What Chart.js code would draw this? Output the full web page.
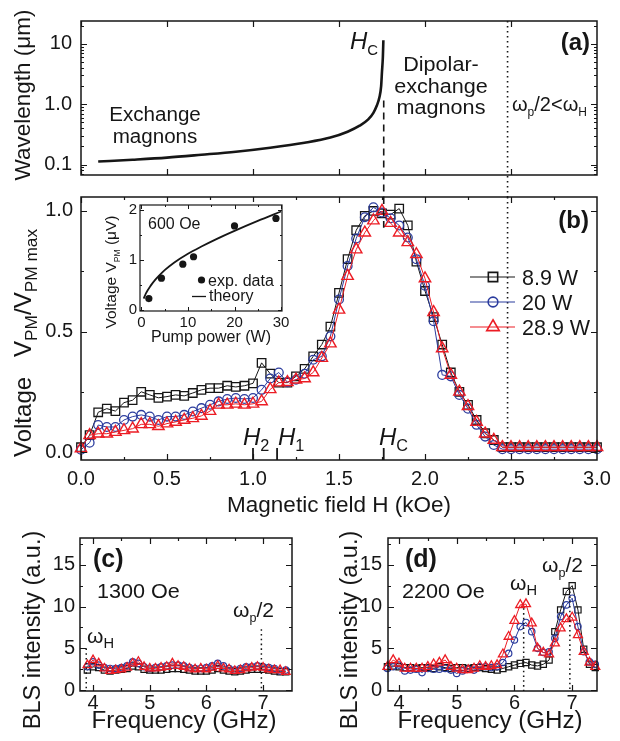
<!DOCTYPE html>
<html><head><meta charset="utf-8">
<script src="https://cdn.jsdelivr.net/npm/chart.js@4.4.0/dist/chart.umd.min.js"></script>
<style>
html,body{margin:0;padding:0;background:#fff;}
#wrap{position:relative;width:620px;height:741px;overflow:hidden;}
canvas{position:absolute;left:0;top:0;}
</style></head><body><div id="wrap">
<canvas id="cb" width="620" height="741"></canvas>
<canvas id="ca" width="620" height="741"></canvas>
<canvas id="ci" width="620" height="741"></canvas>
<canvas id="cc" width="620" height="741"></canvas>
<canvas id="cd" width="620" height="741"></canvas>
</div>
<script>
// ---------------- DATA ----------------
// panel (b): normalized voltage vs magnetic field
const fieldKOe = [0,0.05,0.1,0.15,0.2,0.25,0.3,0.35,0.4,0.45,0.5,0.55,0.6,0.65,0.7,0.75,0.8,0.85,0.9,0.95,
  1.0,1.05,1.1,1.15,1.2,1.25,1.3,1.35,1.4,1.45,1.5,1.55,1.6,1.65,1.7,1.75,1.8,1.85,1.9,1.95,
  2.0,2.05,2.1,2.15,2.2,2.25,2.3,2.35,2.4,2.45,2.5,2.55,2.6,2.65,2.7,2.75,2.8,2.85,2.9,2.95,3.0];
const v89W = [0.02,0.07,0.165,0.18,0.17,0.205,0.215,0.25,0.237,0.225,
  0.23,0.237,0.233,0.245,0.258,0.265,0.265,0.275,0.27,0.275,
  0.285,0.37,0.325,0.288,0.288,0.314,0.345,0.397,0.446,0.52,
  0.66,0.80,0.92,0.98,1.0,0.99,0.985,1.01,0.94,0.79,
  0.668,0.56,0.446,0.33,0.25,0.196,0.133,0.078,0.05,0.02,
  0.02,0.02,0.02,0.02,0.02,0.02,0.02,0.02,0.02,0.02,0.02];
const v20W = [0.01,0.039,0.112,0.104,0.104,0.133,0.147,0.154,0.147,0.133,
  0.147,0.147,0.154,0.168,0.182,0.196,0.21,0.22,0.224,0.22,
  0.224,0.258,0.305,0.33,0.29,0.30,0.325,0.383,0.397,0.48,
  0.633,0.772,0.886,0.974,1.015,0.994,0.97,0.94,0.89,0.80,
  0.69,0.543,0.32,0.314,0.237,0.18,0.113,0.064,0.029,0.012,
  0.012,0.012,0.012,0.012,0.012,0.012,0.012,0.012,0.012,0.012,0.012];
const v289W = [0.015,0.07,0.076,0.076,0.083,0.09,0.097,0.115,0.115,0.107,
  0.118,0.125,0.133,0.14,0.15,0.17,0.196,0.196,0.2,0.196,
  0.2,0.21,0.26,0.288,0.29,0.30,0.305,0.33,0.39,0.45,
  0.59,0.73,0.84,0.91,0.96,1.0,0.95,0.91,0.87,0.82,
  0.72,0.58,0.43,0.32,0.25,0.19,0.125,0.076,0.05,0.02,
  0.02,0.02,0.02,0.02,0.02,0.02,0.02,0.02,0.02,0.02,0.02];
const powerLabels = ['8.9 W','20 W','28.9 W'];

// panel (a): wavelength of exchange magnons
const wlField = [0.1,0.3,0.5,0.7,0.9,1.1,1.3,1.45,1.55,1.62,1.67,1.70,1.72,1.735,1.745,1.75,1.755,1.758];
const wlMicron = [0.112,0.12,0.13,0.145,0.163,0.19,0.23,0.28,0.35,0.44,0.56,0.72,0.95,1.3,2.0,3.5,6.0,11.5];

// inset: voltage vs pump power
const insetPowerW = [1.6,4.3,8.9,11.2,20,28.9];
const insetVoltUV = [0.22,0.63,0.91,1.06,1.68,1.83];
const theoryPowerW = [0.5,1,2,3,4,5,7,10,13,16,20,25,30];
const theoryVoltUV = [0.22,0.33,0.48,0.6,0.7,0.79,0.94,1.12,1.27,1.41,1.58,1.78,1.97];

// panel (c): BLS spectra at 1300 Oe
const freqC = [3.9,4.0,4.1,4.2,4.3,4.4,4.5,4.6,4.7,4.8,4.9,5.0,5.1,5.2,5.3,5.4,5.5,5.6,5.7,5.8,
  5.9,6.0,6.1,6.2,6.3,6.4,6.5,6.6,6.7,6.8,6.9,7.0,7.1,7.2,7.3,7.4];
const c89W = [2.4,2.8,2.7,2.4,2.3,2.4,2.5,2.6,2.9,2.8,2.5,2.4,2.4,2.4,2.5,2.6,2.6,2.5,2.4,2.3,
  2.3,2.3,2.4,2.6,2.4,2.3,2.2,2.3,2.4,2.5,2.5,2.5,2.4,2.3,2.2,2.2];
const c20W = [2.8,3.4,3.0,2.7,2.6,2.6,2.7,2.9,3.4,3.2,2.8,2.6,2.7,2.8,2.9,3.0,3.0,2.9,2.7,2.6,
  2.6,2.7,2.9,3.2,2.9,2.6,2.4,2.6,2.8,2.8,2.9,2.8,2.7,2.6,2.3,2.4];
const c289W = [3.0,3.6,3.2,2.6,2.3,2.4,2.5,2.7,3.2,3.4,2.8,2.6,2.6,2.7,2.8,3.2,2.9,2.8,2.6,2.5,
  2.6,2.5,2.7,2.9,2.6,2.5,2.3,2.4,2.6,2.7,2.8,2.7,2.5,2.4,2.4,2.2];

// panel (d): BLS spectra at 2200 Oe
const freqD = [3.8,3.9,4.0,4.1,4.2,4.3,4.4,4.5,4.6,4.7,4.8,4.9,5.0,5.1,5.2,5.3,5.4,5.5,5.6,5.7,
  5.8,5.9,6.0,6.1,6.2,6.3,6.4,6.5,6.6,6.7,6.8,6.9,7.0,7.1,7.2,7.3,7.4];
const d89W = [2.8,2.9,2.8,2.7,2.7,2.6,2.7,2.7,2.6,2.8,2.7,2.6,2.7,2.7,2.6,2.7,2.7,2.6,2.5,2.4,
  2.6,2.8,3.0,3.2,3.3,3.0,2.9,3.1,3.6,7.0,9.6,11.8,12.5,9.6,4.9,3.1,2.7];
const d20W = [2.6,2.8,3.0,2.3,2.4,2.5,2.1,2.6,2.5,2.5,2.6,2.4,2.0,2.3,2.5,2.4,2.8,2.8,2.7,2.8,
  3.3,4.4,6.0,7.6,8.1,7.0,5.0,4.5,4.6,6.2,8.8,10.2,11.0,7.6,4.6,3.4,3.1];
const d289W = [2.8,3.6,3.2,2.6,2.6,2.6,2.6,2.8,3.1,3.3,3.6,2.8,2.6,2.4,2.4,2.6,2.9,2.8,2.9,3.0,
  4.3,6.4,8.3,10.2,10.3,8.0,5.0,4.5,4.3,5.6,7.4,8.5,8.7,6.6,4.6,3.3,2.8];

// tick values / labels
const fieldTicks = [0,0.5,1.0,1.5,2.0,2.5,3.0];
const voltTicks = [0,0.5,1.0];
const wlTicks = [0.1,1,10];
const wlTickLabels = ['0.1','1.0','10'];
const freqTicks = [4,5,6,7];
const blsTicks = [0,5,10,15];
const powerTicks = [0,10,20,30];
const uvTicks = [0,1,2];

// ---------------- STYLE / LAYOUT ----------------
const FH = "'Liberation Sans', Arial, sans-serif";
const FV = "'Liberation Sans', Arial, sans-serif";
const INK = '#161616';
const BLUE = '#2b3c9e';
const RED = '#ec1c24';
Chart.defaults.font.family = FH;
Chart.defaults.color = INK;

const AREA_A = {left:81, top:16, right:597, bottom:175};
const AREA_B = {left:81, top:197, right:597, bottom:460};
const AREA_I = {left:140, top:205, right:282, bottom:311};
const AREA_C = {left:80, top:538, right:292, bottom:691};
const AREA_D = {left:388, top:538, right:597, bottom:691};

function pts(xs, ys) { return xs.map((x, i) => ({x: x, y: ys[i]})); }

function xAxis(min, max, ticks, fmt, size, pad, h, show) {
  return {
    type: 'linear', position: 'bottom', min: min, max: max,
    grid: {display: false, drawTicks: false}, border: {display: false},
    afterBuildTicks: s => { s.ticks = ticks.map(v => ({value: v})); },
    afterFit: s => { s.height = h; },
    ticks: {display: show, padding: pad, font: {size: size, family: FH}, color: INK,
      callback: fmt, maxRotation: 0, minRotation: 0, autoSkip: false}
  };
}
function yAxis(type, min, max, ticks, fmt, size, pad, w) {
  return {
    type: type, position: 'left', min: min, max: max,
    grid: {display: false, drawTicks: false}, border: {display: false},
    afterBuildTicks: s => { s.ticks = ticks.map(v => ({value: v})); },
    afterFit: s => { s.width = w; },
    ticks: {display: true, padding: pad, font: {size: size, family: FH}, color: INK,
      callback: fmt, autoSkip: false}
  };
}

function rich(ctx, parts, x, y, size, o) {
  o = o || {};
  const fam = o.fam || FH;
  const sx = o.sx || 1;
  const fontFor = k => {
    let s = size, pre = '';
    if (k.indexOf('s') >= 0) s = size * (o.subScale || 0.62);
    if (k.indexOf('i') >= 0) pre += 'italic ';
    if (k.indexOf('b') >= 0) pre += 'bold ';
    return pre + s.toFixed(1) + 'px ' + fam;
  };
  ctx.save();
  ctx.translate(x, y);
  if (o.rot) ctx.rotate(o.rot);
  ctx.scale(sx, 1);
  let total = 0;
  const ws = parts.map(p => { ctx.font = fontFor(p[1] || ''); const w = ctx.measureText(p[0]).width; total += w; return w; });
  let cx = o.align === 'center' ? -total / 2 : (o.align === 'right' ? -total : 0);
  ctx.fillStyle = o.color || INK;
  ctx.textAlign = 'left';
  ctx.textBaseline = 'alphabetic';
  parts.forEach((p, i) => {
    const k = p[1] || '';
    ctx.font = fontFor(k);
    const dy = k.indexOf('s') >= 0 ? size * 0.24 : 0;
    ctx.fillText(p[0], cx, dy);
    cx += ws[i];
  });
  ctx.restore();
}

function vline(ctx, x, y0, y1, dash, lw) {
  ctx.save();
  ctx.strokeStyle = INK; ctx.lineWidth = lw || 1.5;
  ctx.setLineDash(dash);
  ctx.beginPath(); ctx.moveTo(x, y0); ctx.lineTo(x, y1); ctx.stroke();
  ctx.restore();
}

function marker(ctx, kind, x, y, r, color, lw) {
  ctx.save();
  ctx.strokeStyle = color; ctx.lineWidth = lw;
  ctx.beginPath();
  if (kind === 'rect') { const h = r * Math.SQRT1_2; ctx.rect(x - h, y - h, 2 * h, 2 * h); }
  else if (kind === 'circle') { ctx.arc(x, y, r, 0, Math.PI * 2); }
  else { ctx.moveTo(x, y - r); ctx.lineTo(x + r * 0.866, y + r * 0.5); ctx.lineTo(x - r * 0.866, y + r * 0.5); ctx.closePath(); }
  ctx.stroke();
  ctx.restore();
}

function framePlugin(spec) {
  return {
    id: 'frame',
    beforeDraw(chart) {
      if (!spec.fill) return;
      const a = chart.chartArea, ctx = chart.ctx;
      ctx.save(); ctx.fillStyle = '#fff';
      ctx.fillRect(a.left - spec.fillPad[0], a.top - spec.fillPad[1], a.right - a.left + spec.fillPad[0] + spec.fillPad[2], a.bottom - a.top + spec.fillPad[1] + spec.fillPad[3]);
      ctx.restore();
    },
    afterDatasetsDraw(chart) {
      const a = chart.chartArea, ctx = chart.ctx, xs = chart.scales.x, ys = chart.scales.y;
      ctx.save();
      ctx.strokeStyle = INK; ctx.lineWidth = spec.lw || 1.5;
      ctx.setLineDash([]);
      ctx.strokeRect(a.left, a.top, a.right - a.left, a.bottom - a.top);
      ctx.lineWidth = spec.tw || 1.2;
      ctx.beginPath();
      const xt = (vals, len) => vals.forEach(v => {
        const p = Math.round(xs.getPixelForValue(v)) + 0.5;
        if (p < a.left || p > a.right) return;
        ctx.moveTo(p, a.bottom); ctx.lineTo(p, a.bottom - len);
        if (spec.top !== false) { ctx.moveTo(p, a.top); ctx.lineTo(p, a.top + len); }
      });
      const yt = (vals, len) => vals.forEach(v => {
        const p = Math.round(ys.getPixelForValue(v)) + 0.5;
        if (p < a.top || p > a.bottom) return;
        ctx.moveTo(a.left, p); ctx.lineTo(a.left + len, p);
        if (spec.right !== false) { ctx.moveTo(a.right, p); ctx.lineTo(a.right - len, p); }
      });
      xt(spec.xMaj || [], spec.maj || 6); xt(spec.xMin || [], spec.min || 3);
      yt(spec.yMaj || [], spec.maj || 6); yt(spec.yMin || [], spec.min || 3);
      ctx.stroke();
      ctx.restore();
    },
    afterDraw(chart) { if (spec.anno) spec.anno(chart, chart.ctx); }
  };
}

function seriesDS(label, xs, ys, style, color, r, lw, order) {
  return {label: label, data: pts(xs, ys), borderColor: color, borderWidth: 1, pointStyle: style,
    pointRadius: r, pointBorderColor: color, pointBorderWidth: lw, pointBackgroundColor: 'rgba(255,255,255,0)',
    showLine: true, tension: 0, clip: false, order: order, fill: false};
}

function baseOptions(area, xh, scales, plugins) {
  return {
    responsive: false, animation: false, devicePixelRatio: 1, events: [],
    layout: {padding: {left: 0, top: area.top, right: 620 - area.right, bottom: 741 - area.bottom - xh}},
    scales: scales,
    plugins: Object.assign({legend: {display: false}, tooltip: {enabled: false}}, plugins || {})
  };
}

// ---------------- PANEL (b) ----------------
new Chart(document.getElementById('cb'), {
  type: 'line',
  data: {datasets: [
    seriesDS(powerLabels[0], fieldKOe, v89W, 'rect', INK, 6.0, 1.3, 3),
    seriesDS(powerLabels[1], fieldKOe, v20W, 'circle', BLUE, 4.4, 1.3, 2),
    seriesDS(powerLabels[2], fieldKOe, v289W, 'triangle', RED, 6.6, 1.4, 1)
  ]},
  options: baseOptions(AREA_B, 40, {
    x: xAxis(0, 3, fieldTicks, v => v.toFixed(1), 20, 7, 40, true),
    y: yAxis('linear', -0.033, 1.058, voltTicks, v => v.toFixed(1), 20, 8, AREA_B.left)
  }),
  plugins: [framePlugin({
    xMaj: fieldTicks, xMin: [0.25,0.75,1.25,1.75,2.25,2.75], yMaj: voltTicks, yMin: [0.25,0.75],
    anno: (chart, ctx) => {
      const xs = chart.scales.x, ys = chart.scales.y, a = chart.chartArea;
      const xc = xs.getPixelForValue(1.76);
      vline(ctx, xc, a.top, ys.getPixelForValue(0.93), [7, 5], 1.6);
      vline(ctx, xs.getPixelForValue(2.48), a.top, ys.getPixelForValue(0.04), [1.6, 3.4], 1.6);
      [1.0, 1.14, 1.76].forEach(v => vline(ctx, xs.getPixelForValue(v), a.bottom - 12, a.bottom, [], 1.8));
      rich(ctx, [['H', 'i'], ['2', 's']], 243, 445, 24, {subScale: 0.68});
      rich(ctx, [['H', 'i'], ['1', 's']], 278, 445, 24, {subScale: 0.68});
      rich(ctx, [['H', 'i'], ['C', 's']], 379, 445, 24, {subScale: 0.68});
      rich(ctx, [['(b)', 'b']], 589, 228, 24, {align: 'right'});
      // axis titles
      rich(ctx, [['Magnetic field H (kOe)', '']], 339, 512, 22.5, {align: 'center'});
      rich(ctx, [['Voltage   V', ''], ['PM', 's'], ['/V', ''], ['PM max', 's']], 31, 457, 24, {rot: -Math.PI / 2, fam: FV, subScale: 0.72});
      // legend
      const rows = [[277, 'rect', INK, 6.0], [302, 'circle', BLUE, 4.4], [327, 'triangle', RED, 6.6]];
      rows.forEach((r, i) => {
        ctx.save(); ctx.strokeStyle = r[2]; ctx.lineWidth = 1.2;
        ctx.beginPath(); ctx.moveTo(470, r[0]); ctx.lineTo(515, r[0]); ctx.stroke(); ctx.restore();
        marker(ctx, r[1], 493, r[0], r[3] * 1.1, r[2], 1.6);
        rich(ctx, [[powerLabels[i], '']], 522, r[0] + 8, 21.5);
      });
    }
  })]
});

// ---------------- PANEL (a) ----------------
new Chart(document.getElementById('ca'), {
  type: 'line',
  data: {datasets: [{data: pts(wlField, wlMicron), borderColor: INK, borderWidth: 2.6, pointRadius: 0,
    tension: 0.3, cubicInterpolationMode: 'monotone', fill: false}]},
  options: baseOptions(AREA_A, 0, {
    x: xAxis(0, 3, fieldTicks, v => v.toFixed(1), 20, 0, 0, false),
    y: yAxis('logarithmic', 0.067, 24, wlTicks, (v) => wlTickLabels[wlTicks.indexOf(v)], 20, 9, AREA_A.left)
  }),
  plugins: [framePlugin({
    xMaj: fieldTicks, yMaj: wlTicks,
    yMin: [0.07,0.08,0.09,0.2,0.3,0.4,0.5,0.6,0.7,0.8,0.9,2,3,4,5,6,7,8,9,20],
    anno: (chart, ctx) => {
      const xs = chart.scales.x, ys = chart.scales.y, a = chart.chartArea;
      vline(ctx, xs.getPixelForValue(1.76), ys.getPixelForValue(1.15), a.bottom + 22, [7, 5], 1.6);
      vline(ctx, xs.getPixelForValue(2.48), a.top, a.bottom + 22, [1.6, 3.4], 1.6);
      rich(ctx, [['Wavelength (μm)', '']], 30, 95, 22.5, {rot: -Math.PI / 2, fam: FV, align: 'center'});
      rich(ctx, [['H', 'i'], ['C', 's']], 350, 49, 24, {subScale: 0.62});
      rich(ctx, [['Dipolar-', '']], 441, 71, 20, {align: 'center', sx: 1.08});
      rich(ctx, [['exchange', '']], 441, 93, 20, {align: 'center', sx: 1.08});
      rich(ctx, [['magnons', '']], 441, 114, 20, {align: 'center', sx: 1.08});
      rich(ctx, [['ω', ''], ['p', 's'], ['/2<ω', ''], ['H', 's']], 512, 111, 20, {subScale: 0.6});
      rich(ctx, [['Exchange', '']], 155, 121, 20, {align: 'center', sx: 1.03});
      rich(ctx, [['magnons', '']], 155, 143, 20, {align: 'center', sx: 1.03});
      rich(ctx, [['(a)', 'b']], 590, 50, 24, {align: 'right'});
    }
  })]
});

// ---------------- INSET ----------------
new Chart(document.getElementById('ci'), {
  type: 'line',
  data: {datasets: [
    {data: pts(insetPowerW, insetVoltUV), showLine: false, pointStyle: 'circle', pointRadius: 3.6,
      pointBackgroundColor: INK, pointBorderColor: INK, pointBorderWidth: 0, clip: false, order: 1},
    {data: pts(theoryPowerW, theoryVoltUV), borderColor: INK, borderWidth: 1.8, pointRadius: 0,
      tension: 0.4, cubicInterpolationMode: 'monotone', fill: false, order: 2}
  ]},
  options: baseOptions(AREA_I, 24, {
    x: xAxis(-0.3, 30.2, powerTicks, v => String(v), 15, 3, 24, true),
    y: yAxis('linear', -0.03, 2.1, uvTicks, v => String(v), 15, 3, AREA_I.left)
  }),
  plugins: [framePlugin({
    fill: true, fillPad: [40, 3, 4, 40], lw: 1.2, tw: 1, maj: 4, min: 2,
    xMaj: powerTicks, xMin: [5,15,25], yMaj: uvTicks, yMin: [0.5,1.5],
    anno: (chart, ctx) => {
      rich(ctx, [['600 Oe', '']], 148, 229, 16);
      ctx.save(); ctx.fillStyle = INK; ctx.beginPath(); ctx.arc(201.5, 280, 3.6, 0, Math.PI * 2); ctx.fill(); ctx.restore();
      rich(ctx, [['exp. data', '']], 208, 286, 16);
      ctx.save(); ctx.strokeStyle = INK; ctx.lineWidth = 1.3; ctx.beginPath(); ctx.moveTo(192, 296.5); ctx.lineTo(206, 296.5); ctx.stroke(); ctx.restore();
      rich(ctx, [['theory', '']], 209, 301, 16);
      rich(ctx, [['Pump power (W)', '']], 211, 342, 16, {align: 'center'});
      rich(ctx, [['Voltage V', ''], ['PM', 's'], [' (μV)', '']], 116, 272, 15.5, {rot: -Math.PI / 2, fam: FV, align: 'center', subScale: 0.55});
    }
  })]
});

// ---------------- PANEL (c) ----------------
new Chart(document.getElementById('cc'), {
  type: 'line',
  data: {datasets: [
    seriesDS(powerLabels[0], freqC, c89W, 'rect', INK, 4.4, 1.2, 3),
    seriesDS(powerLabels[1], freqC, c20W, 'circle', BLUE, 3.2, 1.2, 2),
    seriesDS(powerLabels[2], freqC, c289W, 'triangle', RED, 5.0, 1.3, 1)
  ]},
  options: baseOptions(AREA_C, 30, {
    x: xAxis(3.77, 7.51, freqTicks, v => String(v), 20, 0, 30, true),
    y: yAxis('linear', -0.1, 18.2, blsTicks, v => String(v), 20, 5, AREA_C.left)
  }),
  plugins: [framePlugin({
    xMaj: freqTicks, xMin: [4.5,5.5,6.5], yMaj: blsTicks, yMin: [2.5,7.5,12.5,17.5],
    anno: (chart, ctx) => {
      const xs = chart.scales.x, ys = chart.scales.y, a = chart.chartArea;
      vline(ctx, xs.getPixelForValue(3.88), ys.getPixelForValue(5.0), a.bottom, [1.6, 3.2], 1.5);
      vline(ctx, xs.getPixelForValue(6.97), ys.getPixelForValue(7.3), a.bottom, [1.6, 3.2], 1.5);
      rich(ctx, [['(c)', 'b']], 93, 567, 25);
      rich(ctx, [['1300 Oe', '']], 97, 598, 20, {sx: 1.08});
      rich(ctx, [['ω', ''], ['H', 's']], 87, 643, 21, {subScale: 0.7});
      rich(ctx, [['ω', ''], ['p', 's'], ['/2', '']], 233, 617, 21, {subScale: 0.6});
      rich(ctx, [['BLS intensity (a.u.)', '']], 40, 630, 23.5, {rot: -Math.PI / 2, fam: FV, align: 'center'});
      rich(ctx, [['Frequency (GHz)', '']], 184, 728, 23, {align: 'center', sx: 1.05});
    }
  })]
});

// ---------------- PANEL (d) ----------------
new Chart(document.getElementById('cd'), {
  type: 'line',
  data: {datasets: [
    seriesDS(powerLabels[0], freqD, d89W, 'rect', INK, 4.4, 1.2, 3),
    seriesDS(powerLabels[1], freqD, d20W, 'circle', BLUE, 3.2, 1.2, 2),
    seriesDS(powerLabels[2], freqD, d289W, 'triangle', RED, 5.2, 1.3, 1)
  ]},
  options: baseOptions(AREA_D, 30, {
    x: xAxis(3.81, 7.43, freqTicks, v => String(v), 20, 0, 30, true),
    y: yAxis('linear', -0.1, 18.2, blsTicks, v => String(v), 20, 6, AREA_D.left)
  }),
  plugins: [framePlugin({
    xMaj: freqTicks, xMin: [4.5,5.5,6.5], yMaj: blsTicks, yMin: [2.5,7.5,12.5,17.5],
    anno: (chart, ctx) => {
      const xs = chart.scales.x, ys = chart.scales.y, a = chart.chartArea;
      vline(ctx, xs.getPixelForValue(6.16), ys.getPixelForValue(9.8), a.bottom, [1.6, 3.2], 1.5);
      vline(ctx, xs.getPixelForValue(6.96), ys.getPixelForValue(11.8), a.bottom, [1.6, 3.2], 1.5);
      rich(ctx, [['(d)', 'b']], 405, 567, 25);
      rich(ctx, [['2200 Oe', '']], 402, 598, 20, {sx: 1.08});
      rich(ctx, [['ω', ''], ['H', 's']], 510, 590, 21, {subScale: 0.7});
      rich(ctx, [['ω', ''], ['p', 's'], ['/2', '']], 542, 572, 21, {subScale: 0.6});
      rich(ctx, [['BLS intensity (a.u.)', '']], 357, 630, 23.5, {rot: -Math.PI / 2, fam: FV, align: 'center'});
      rich(ctx, [['Frequency (GHz)', '']], 490, 728, 23, {align: 'center', sx: 1.05});
    }
  })]
});
</script>
</body></html>
